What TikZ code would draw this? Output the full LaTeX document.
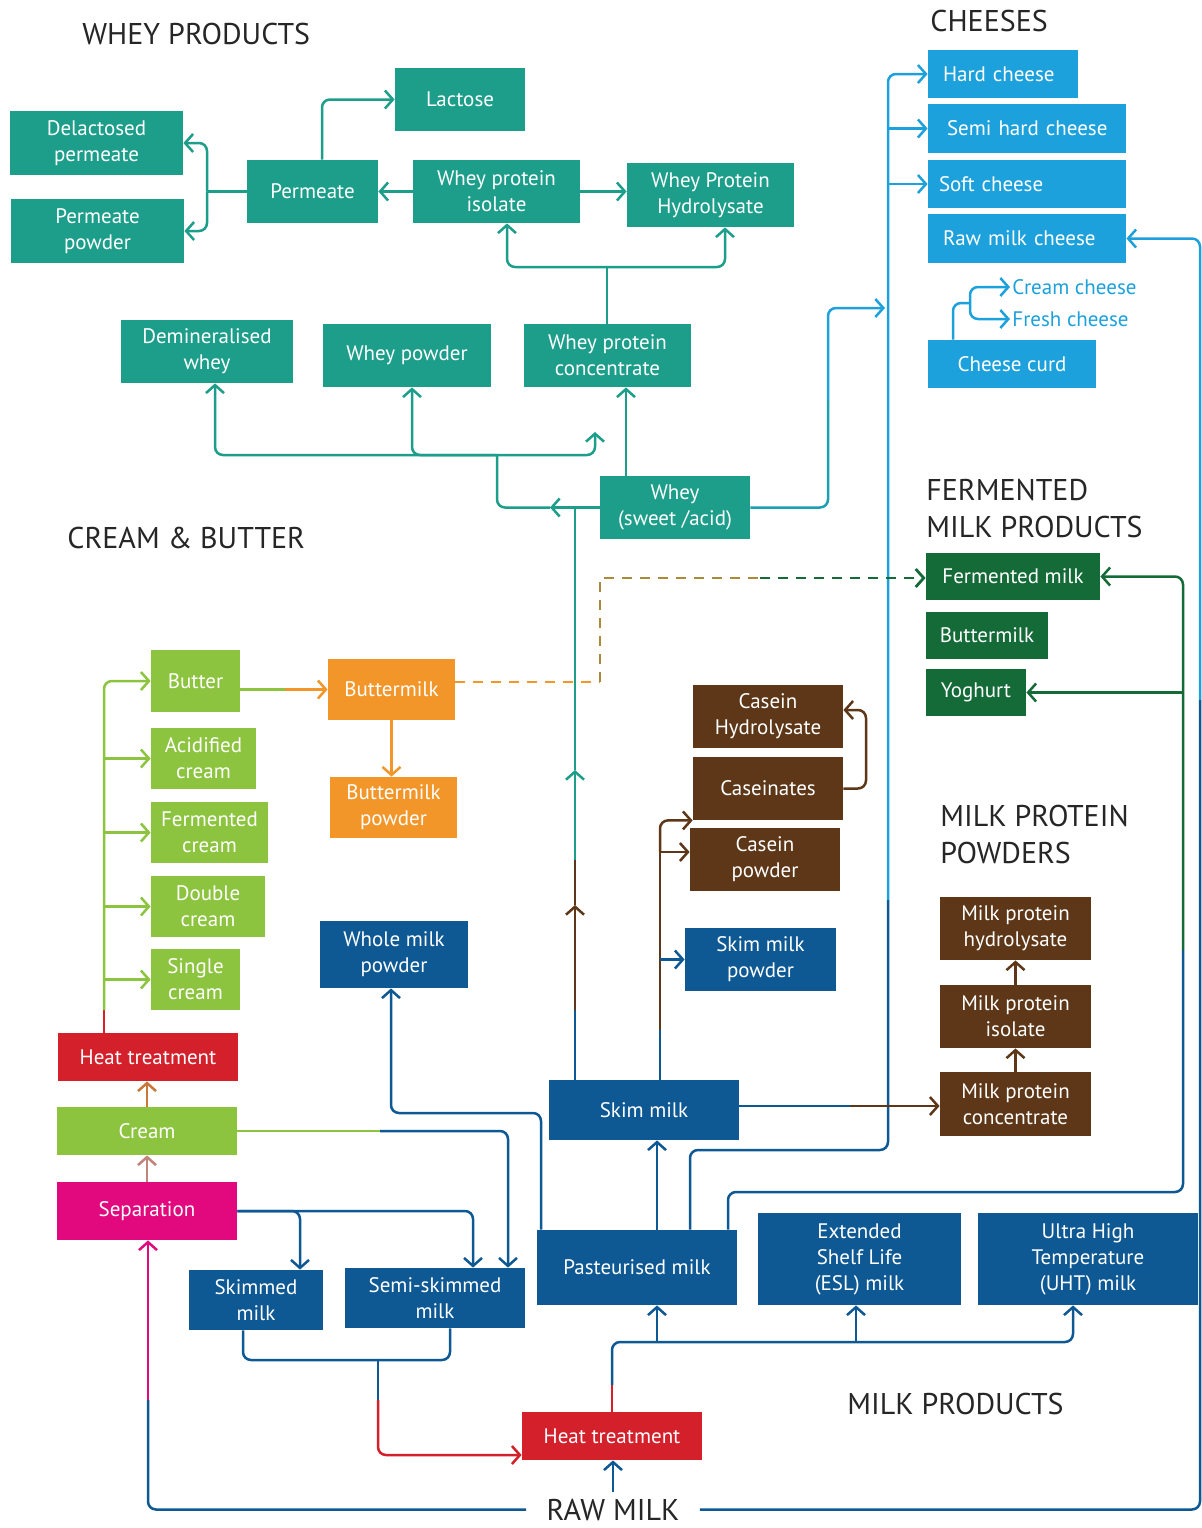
\documentclass[tikz,border=0pt]{standalone}
\usepackage{fontspec}
\setmainfont{PT Sans}
\usetikzlibrary{arrows.meta,calc}
\definecolor{cTeal}{HTML}{1C9E8A}
\definecolor{cBlue}{HTML}{1DA1DC}
\definecolor{cDGreen}{HTML}{146B37}
\definecolor{cLGreen}{HTML}{8CC43F}
\definecolor{cOrange}{HTML}{F3962A}
\definecolor{cOlive}{HTML}{A98A3A}
\definecolor{cBrown}{HTML}{5D3717}
\definecolor{cDBlue}{HTML}{0E5893}
\definecolor{cRed}{HTML}{D4202A}
\definecolor{cMag}{HTML}{E2097E}
\definecolor{cCrHt}{HTML}{C8783A}
\definecolor{cSpCr}{HTML}{C0847A}
\newcommand\bxf{\fontsize{10.5}{13}\selectfont}
\newcommand\ttf{\fontsize{15}{18.5}\selectfont}
% \bx[options]{name}{colour}{x1}{y1}{x2}{y2}{text}  (pixel corners)
\newcommand\bx[8][]{\node[box,fill=#3,
  minimum width={(#6-#4)*0.5pt},minimum height={(#7-#5)*0.5pt},#1]
  (#2) at ({(#4+#6)/2},{(#5+#7)/2}) {#8};}
\begin{document}
\begin{tikzpicture}[x=0.5pt,y=-0.5pt,
  box/.style={inner sep=0pt, text=white, font=\bxf, align=center},
  ttl/.style={font=\ttf, text=black!85, inner sep=0pt, align=left},
  ln/.style={line width=1.25pt, rounded corners=4pt},
  ar/.style={ln, -{Straight Barb[length=4pt,width=9pt]}},
  dsh/.style={line width=1.4pt, dash pattern=on 5pt off 4pt},
]
\fill[white] (0,0) rectangle (1202,1528);
\useasboundingbox (0,0) rectangle (1202,1528);

% ---------- titles
\node[ttl,anchor=base west] at (82,44) {WHEY PRODUCTS};
\node[ttl,anchor=base west] at (930,31) {CHEESES};
\node[ttl,anchor=base west] at (67,548) {CREAM \& BUTTER};
\node[ttl,anchor=base west] at (926,500) {FERMENTED};
\node[ttl,anchor=base west] at (926,537) {MILK PRODUCTS};
\node[ttl,anchor=base west] at (940,826) {MILK PROTEIN};
\node[ttl,anchor=base west] at (940,863) {POWDERS};
\node[ttl,anchor=base west] at (847,1414) {MILK PRODUCTS};
\node[ttl,inner xsep=10pt,inner ysep=3pt,anchor=base] (raw) at (613,1520) {RAW MILK};

% ---------- whey products
\bx{lact}{cTeal}{395}{68}{525}{131}{Lactose}
\bx{delac}{cTeal}{10}{111}{183}{175}{Delactosed\\permeate}
\bx{ppow}{cTeal}{11}{199}{184}{263}{Permeate\\powder}
\bx{perm}{cTeal}{247}{160}{378}{223}{Permeate}
\bx{wpi}{cTeal}{413}{160}{580}{223}{Whey protein\\isolate}
\bx{wph}{cTeal}{627}{163}{794}{227}{Whey Protein\\Hydrolysate}
\bx{demin}{cTeal}{121}{320}{293}{383}{Demineralised\\whey}
\bx{wpow}{cTeal}{323}{324}{491}{387}{Whey powder}
\bx{wpc}{cTeal}{524}{324}{691}{387}{Whey protein\\concentrate}
\bx{whey}{cTeal}{600}{476}{750}{539}{Whey\\(sweet /acid)}

% ---------- cheeses
\bx[text width=60pt,align=left]{hard}{cBlue}{928}{50}{1078}{98}{Hard cheese}
\bx[text width=84pt,align=left]{semi}{cBlue}{928}{104}{1126}{153}{\hspace*{2pt}Semi hard cheese}
\bx[text width=88pt,align=left]{soft}{cBlue}{928}{160}{1126}{208}{Soft cheese}
\bx[text width=84pt,align=left]{rawch}{cBlue}{928}{214}{1126}{263}{Raw milk cheese}
\bx{curd}{cBlue}{928}{340}{1096}{388}{Cheese curd}
\node[font=\bxf,text=cBlue,anchor=west,inner sep=1pt] (creamch) at (1010,287) {Cream cheese};
\node[font=\bxf,text=cBlue,anchor=west,inner sep=1pt] (freshch) at (1010,319) {Fresh cheese};

% ---------- fermented milk products
\bx{fmilk}{cDGreen}{926}{553}{1100}{600}{Fermented milk}
\bx{bmilkf}{cDGreen}{926}{612}{1048}{659}{Buttermilk}
\bx{yog}{cDGreen}{926}{669}{1026}{716}{Yoghurt}

% ---------- cream & butter
\bx{butter}{cLGreen}{151}{650}{240}{712}{Butter}
\bx{acid}{cLGreen}{151}{728}{256}{789}{Acidified\\cream}
\bx{fcream}{cLGreen}{151}{802}{268}{863}{Fermented\\cream}
\bx{dcream}{cLGreen}{151}{876}{265}{937}{Double\\cream}
\bx{scream}{cLGreen}{151}{949}{240}{1010}{Single\\cream}
\bx{bmilk}{cOrange}{328}{659}{455}{720}{Buttermilk}
\bx{bpow}{cOrange}{330}{777}{457}{838}{Buttermilk\\powder}
\bx{heat1}{cRed}{58}{1033}{238}{1081}{Heat treatment}
\bx{cream}{cLGreen}{57}{1107}{237}{1155}{Cream}
\bx{sep}{cMag}{57}{1182}{237}{1240}{Separation}

% ---------- milk products
\bx{wmp}{cDBlue}{320}{921}{468}{988}{Whole milk\\powder}
\bx{skimd}{cDBlue}{189}{1270}{323}{1330}{Skimmed\\milk}
\bx{semi2}{cDBlue}{345}{1268}{525}{1328}{Semi-skimmed\\milk}
\bx{heat2}{cRed}{522}{1412}{702}{1460}{Heat treatment}
\bx{past}{cDBlue}{537}{1230}{737}{1305}{Pasteurised milk}
\bx{esl}{cDBlue}{758}{1213}{961}{1305}{Extended\\Shelf Life\\(ESL) milk}
\bx{uht}{cDBlue}{978}{1213}{1198}{1305}{Ultra High\\Temperature\\(UHT) milk}
\bx{skim}{cDBlue}{549}{1080}{739}{1140}{Skim milk}
\bx{smp}{cDBlue}{685}{928}{836}{991}{Skim milk\\powder}

% ---------- milk protein powders / casein
\bx{mpc}{cBrown}{940}{1072}{1091}{1136}{Milk protein\\concentrate}
\bx{mpi}{cBrown}{940}{985}{1091}{1048}{Milk protein\\isolate}
\bx{mph}{cBrown}{940}{897}{1091}{960}{Milk protein\\hydrolysate}
\bx{chyd}{cBrown}{693}{685}{843}{748}{Casein\\Hydrolysate}
\bx{cas}{cBrown}{693}{757}{843}{820}{Caseinates}
\bx{cpow}{cBrown}{690}{828}{840}{891}{Casein\\powder}

% ================= connectors
% whey
\draw[ar,cTeal] (322,0 |- perm.north) |- (lact.west);
\coordinate (pj) at (207,0 |- perm.west);
\draw[ln,cTeal] (perm.west) -- (pj);
\draw[ar,cTeal] (pj) |- (delac.east);
\draw[ar,cTeal] (pj) |- (ppow.east);
\draw[ar,cTeal] (wpi.west) -- (perm.east);
\draw[ar,cTeal] (wpi.east) -- (wpi.east -| wph.west);
\coordinate (cj) at (607,267);
\draw[ln,cTeal] (607,0 |- wpc.north) -- (cj);
\draw[ar,cTeal] (cj) -| (507,0 |- wpi.south);
\draw[ar,cTeal] (cj) -| (725,0 |- wph.south);
\draw[ar,cTeal] (626,0 |- whey.north) -- (626,0 |- wpc.south);
\coordinate (wj) at (497,455);
\draw[ar,cTeal] (whey.west) -- (550,0 |- whey.west);
\draw[ln,cTeal] (550,0 |- whey.west) -| (wj);
\draw[ar,cTeal] (wj) -| (215,0 |- demin.south);
\draw[ar,cTeal] (wj) -| (412,0 |- wpow.south);
\draw[ar,cTeal] (wj) -| (595,432);
\coordinate (cj2) at (885,308);
\draw[ln,cTeal!50!cBlue] (whey.east) -| (828,400);
\draw[ar,cBlue] (828,400) |- (cj2);

% cheeses
\draw[ln,cDBlue] (690,0 |- past.north) |- (888,1150) -- (888,900);
\draw[ar,cBlue] (888,900) |- (hard.west);
\draw[ar,cBlue] (888,0 |- semi.west) -- (semi.west);
\draw[ar,cBlue] (888,0 |- soft.west) -- (soft.west);
\draw[ln,cDBlue] (raw.east) -| (1200,700);
\draw[ar,cBlue] (1200,700) |- (rawch.east);
\coordinate (cc) at (970,303);
\draw[ln,cBlue] (953,0 |- curd.north) |- (cc);
\draw[ar,cBlue] (cc) |- (creamch.west);
\draw[ar,cBlue] (cc) |- (freshch.west);

% fermented
\draw[ln,cDBlue] (728,0 |- past.north) |- (1183,1192) -- (1183,950);
\draw[ar,cDGreen] (1183,950) |- (fmilk.east);
\draw[ar,cDGreen] (1183,0 |- yog.east) -- (yog.east);
\draw[dsh,cOrange] (bmilk.east |- 0,682) -- (600,682);
\draw[dsh,cOlive] (600,682) -- (600,578) -- (760,578);
\draw[dsh,cDGreen,-{Straight Barb[length=4pt,width=9pt]}] (760,578) -- (fmilk.west |- 0,578);

% cream & butter
\draw[ln,cRed] (104,0 |- heat1.north) -- (104,1010);
\draw[ar,cLGreen] (104,1010) |- (butter.west);
\foreach \nn in {acid,fcream,dcream,scream}
  \draw[ar,cLGreen] (104,0 |- \nn.west) -- (\nn.west);
\draw[ln,cLGreen] (butter.east |- bmilk.west) -- (285,0 |- bmilk.west);
\draw[ar,cOrange] (285,0 |- bmilk.west) -- (bmilk.west);
\draw[ar,cOrange] (bmilk.south) -- (bmilk.south |- bpow.north);
\draw[ar,cCrHt] (147,0 |- cream.north) -- (147,0 |- heat1.south);
\draw[ar,cSpCr] (147,0 |- sep.north) -- (147,0 |- cream.south);
\draw[ln,cDBlue] (raw.west) -| (148,1400);
\draw[ar,cMag] (148,1400) -- (148,0 |- sep.south);
\draw[ar,cDBlue] (sep.east) -| (300,0 |- skimd.north);
\draw[ar,cDBlue] (sep.east) -| (473,0 |- semi2.north);
\draw[ln,cLGreen] (cream.east) -- (380,0 |- cream.east);
\draw[ar,cDBlue] (380,0 |- cream.east) -| (508,0 |- semi2.north);

% milk products
\coordinate (bj) at (378,1360);
\draw[ln,cDBlue] (243,0 |- skimd.south) |- (bj);
\draw[ln,cDBlue] (450,0 |- semi2.south) |- (bj);
\draw[ln,cDBlue] (bj) -- (378,1400);
\draw[ar,cRed] (378,1400) |- (heat2.west |- 0,1455);
\draw[ar,cDBlue] (raw.north) -- (raw.north |- heat2.south);
\draw[ln,cRed] (heat2.north) -- (612,1385);
\draw[ar,cDBlue] (612,1385) |- (1073,1342) -- (1073,0 |- uht.south);
\draw[ar,cDBlue] (657,1342) -- (657,0 |- past.south);
\draw[ar,cDBlue] (856,1342) -- (856,0 |- esl.south);
\draw[ar,cDBlue] (657,0 |- past.north) -- (657,0 |- skim.south);
\draw[ar,cDBlue] (541,0 |- past.north) |- (391,1113) -- (391,0 |- wmp.south);

% skim milk
\draw[ln,cDBlue] (skim.east |- 0,1106) -- (850,1106);
\draw[ar,cBrown] (850,1106) -- (mpc.west |- 0,1106);
\draw[ar,cBrown] (mpc.north) -- (mpi.south);
\draw[ar,cBrown] (mpi.north) -- (mph.south);
\draw[ln,cDBlue] (575,0 |- skim.north) -- (575,1010);
\draw[ar,cBrown] (575,1010) -- (575,905);
\draw[ln,cBrown] (575,905) -- (575,860);
\draw[ar,cTeal] (575,860) -- (575,770);
\draw[ln,cTeal] (575,770) -- (575,0 |- whey.west);
\draw[ln,cDBlue] (660,0 |- skim.north) -- (660,1030);
\draw[ln,cBrown] (660,1030) -- (660,852);
\draw[ar,cBrown] (660,852) |- (cas.south west);
\draw[ar,cBrown] (660,852) -- (cpow.west |- 0,852);
\draw[ar,cDBlue] (660,0 |- smp.west) -- (smp.west);
\draw[ar,cBrown] (cas.east) -| (866,710) -- (chyd.east |- 0,710);
\end{tikzpicture}
\end{document}
